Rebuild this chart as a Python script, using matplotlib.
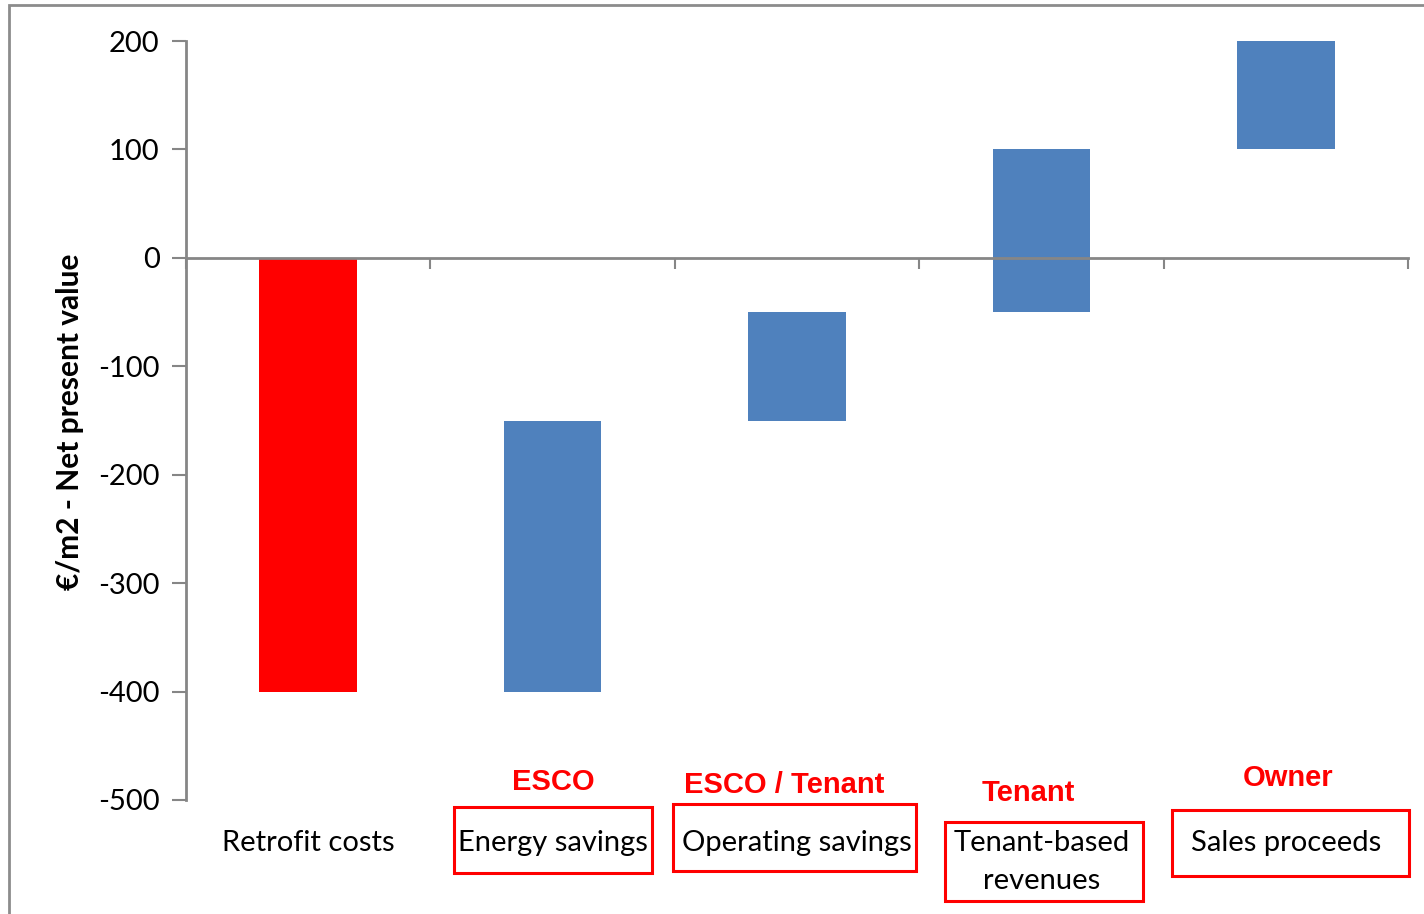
import matplotlib.pyplot as plt
import matplotlib.patches as mpatches
import numpy as np

categories = ['Retrofit costs', 'Energy savings', 'Operating savings',
              'Tenant-based\nrevenues', 'Sales proceeds']
starts = [0, -400, -150, -50, 100]
ends = [-400, -150, -50, 100, 200]
owners = ['', 'ESCO', 'ESCO / Tenant', 'Tenant', 'Owner']
bar_colors = ['#FF0000', '#4F81BD', '#4F81BD', '#4F81BD', '#4F81BD']
yticks = [200, 100, 0, -100, -200, -300, -400, -500]

W, H = 1424, 914
fig = plt.figure(figsize=(W / 100, H / 100), dpi=100)
ax = fig.add_axes([186 / W, 1 - 800 / H, (1408 - 186) / W, (800 - 41) / H])

x = np.arange(len(categories))
heights = np.array(ends) - np.array(starts)
ax.bar(x, heights, bottom=starts, width=0.4, color=bar_colors, zorder=1)

gray = '#868686'
ax.set_xlim(-0.5, len(categories) - 0.5)
ax.set_ylim(-500, 200)
ax.set_yticks(yticks)
ax.set_yticklabels([str(v) for v in yticks], fontfamily='Lato', fontsize=21)
ax.tick_params(axis='y', length=10, width=1.5, color=gray, pad=9)
ax.set_xticks(np.arange(-0.5, len(categories)))
ax.set_xticklabels([])
ax.tick_params(axis='x', length=8, width=1.5, color=gray, direction='out')

for s in ['top', 'right']:
    ax.spines[s].set_visible(False)
ax.spines['bottom'].set_position(('data', 0))
for s in ['left', 'bottom']:
    ax.spines[s].set_color(gray)
    ax.spines[s].set_linewidth(2)

fig.text(70 / W, 1 - 422 / H, '€/m2 - Net present value', rotation=90,
         ha='center', va='center', fontfamily='Lato', fontweight='bold',
         fontsize=21.5)

# category labels below the axes
label_y = [843, 843, 843, 862, 843]
for i, (cat, ly) in enumerate(zip(categories, label_y)):
    fig.text(ax.transData.transform((i, 0))[0] / W, 1 - ly / H, cat,
             ha='center', va='center', fontfamily='Lato', fontsize=21,
             linespacing=1.55)

# stakeholder labels and boxes
owner_pos = [(0, 0), (553, 782), (784, 785), (1028, 793), (1288, 778)]
boxes = [None, (454, 807, 652, 873), (673, 804, 916, 871),
         (945, 822, 1143, 901), (1172, 810, 1409, 876)]
for own, (ox, oy), box in zip(owners, owner_pos, boxes):
    if not own:
        continue
    fig.text(ox / W, 1 - oy / H, own, ha='center', va='center',
             fontfamily='Liberation Sans', fontweight='bold', fontsize=21,
             color='#FF0000')
    x0, y0, x1, y1 = box
    fig.patches.append(mpatches.Rectangle((x0 / W, 1 - y1 / H), (x1 - x0) / W,
                                          (y1 - y0) / H, fill=False,
                                          edgecolor='#FF0000', linewidth=2.2,
                                          transform=fig.transFigure))

# outer chart border (partly cut off at right and bottom)
fig.patches.append(mpatches.Rectangle((9 / W, -0.1), 1.2, 1 - 5 / H + 0.1,
                                      fill=False, edgecolor='#8C8C8C',
                                      linewidth=2, transform=fig.transFigure))

fig.savefig('out.png', dpi=100)
